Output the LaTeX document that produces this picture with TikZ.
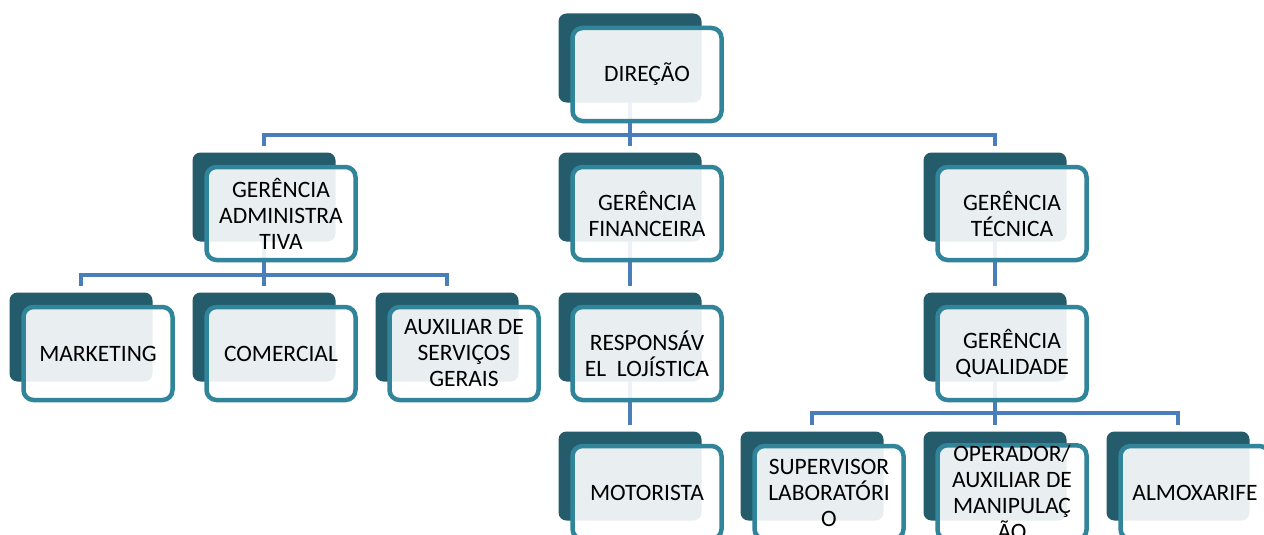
\documentclass[tikz,border=0pt]{standalone}
\usepackage{fontspec}
\setmainfont{Carlito}
\usetikzlibrary{backgrounds}
\definecolor{escuro}{RGB}{36,92,107}
\definecolor{borda}{RGB}{49,133,155}
\definecolor{conector}{RGB}{74,126,187}
\begin{document}
\begin{tikzpicture}[x=1pt,y=-1pt,
  fundo/.style={fill=escuro, rounded corners=8pt, minimum width=143pt, minimum height=89pt, inner sep=0pt},
  caixa/.style={draw=borda, line width=4.5pt, rounded corners=10pt, fill=white, fill opacity=0.9, text opacity=1, minimum width=149pt, minimum height=93pt, inner sep=0pt, align=center, font=\fontsize{23.5}{26}\selectfont},
  linha/.style={draw=conector, line width=4pt}]
\useasboundingbox (0,0) rectangle (1264,535);
\clip (0,0) rectangle (1264,535);
% caixas
\node[fundo] (dir-b) at (630,58) {};
\node[caixa] (dir) at (647,74.5) {DIREÇÃO};
\node[fundo] (adm-b) at (264,197) {};
\node[caixa] (adm) at (281,213.5) {GERÊNCIA\\ADMINISTRA\\TIVA};
\node[fundo] (fin-b) at (630,197) {};
\node[caixa] (fin) at (647,213.5) {GERÊNCIA\\FINANCEIRA};
\node[fundo] (tec-b) at (995,197) {};
\node[caixa] (tec) at (1012,213.5) {GERÊNCIA\\TÉCNICA};
\node[fundo] (mkt-b) at (81,337) {};
\node[caixa] (mkt) at (98,353.5) {MARKETING};
\node[fundo] (com-b) at (264,337) {};
\node[caixa] (com) at (281,353.5) {COMERCIAL};
\node[fundo] (aux-b) at (447,337) {};
\node[caixa] (aux) at (464,353.5) {AUXILIAR DE\\SERVIÇOS\\GERAIS};
\node[fundo] (resp-b) at (630,337) {};
\node[caixa] (resp) at (647,353.5) {RESPONSÁV\\EL\ \ LOJÍSTICA};
\node[fundo] (qual-b) at (995,337) {};
\node[caixa] (qual) at (1012,353.5) {GERÊNCIA\\QUALIDADE};
\node[fundo] (mot-b) at (630,476) {};
\node[caixa] (mot) at (647,492.5) {MOTORISTA};
\node[fundo] (sup-b) at (812,476) {};
\node[caixa] (sup) at (829,492.5) {SUPERVISOR\\LABORATÓRI\\O};
\node[fundo] (ope-b) at (995,476) {};
\node[caixa] (ope) at (1012,492.5) {OPERADOR/\\AUXILIAR DE\\MANIPULAÇ\\ÃO};
\node[fundo] (alm-b) at (1178,476) {};
\node[caixa] (alm) at (1195,492.5) {ALMOXARIFE};
% ligacoes
\begin{scope}[on background layer]
\fill[white] (0,0) rectangle (1264,535);
\coordinate (b1) at (630,135);
\coordinate (b2) at (264,275);
\coordinate (b3) at (995,413);
\draw[linha] (dir-b.center) -- (b1);
\draw[linha, shorten <=6pt, shorten >=6pt] (adm-b.north) |- (b1) -| (tec-b.north);
\draw[linha, shorten >=6pt] (b1) -- (fin-b.north);
\draw[linha] (adm-b.center) -- (b2);
\draw[linha, shorten <=6pt, shorten >=6pt] (mkt-b.north) |- (b2) -| (aux-b.north);
\draw[linha, shorten >=6pt] (b2) -- (com-b.north);
\draw[linha, shorten >=6pt] (fin-b.center) -- (resp-b.north);
\draw[linha, shorten >=6pt] (resp-b.center) -- (mot-b.north);
\draw[linha, shorten >=6pt] (tec-b.center) -- (qual-b.north);
\draw[linha] (qual-b.center) -- (b3);
\draw[linha, shorten <=6pt, shorten >=6pt] (sup-b.north) |- (b3) -| (alm-b.north);
\draw[linha, shorten >=6pt] (b3) -- (ope-b.north);
\end{scope}
\end{tikzpicture}
\end{document}
